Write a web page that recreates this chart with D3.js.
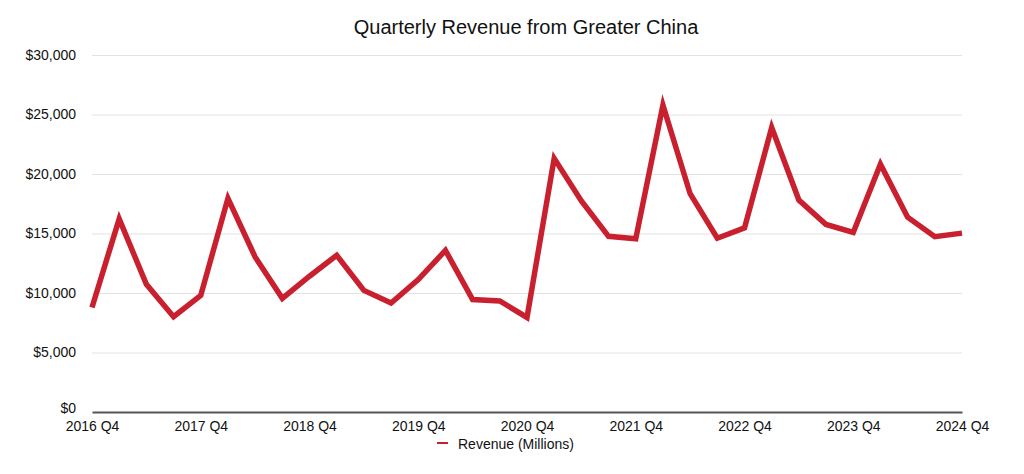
<!DOCTYPE html>
<html>
<head>
<meta charset="utf-8">
<script src="https://cdn.jsdelivr.net/npm/d3@7"></script>
<style>
  html, body { margin: 0; padding: 0; background: #fff; }
  svg { display: block; font-family: "Liberation Sans", Arial, Helvetica, sans-serif; }
</style>
</head>
<body>
<svg id="chart" width="1024" height="474"></svg>
<script>
const quarters = [
  "2016 Q4","2017 Q1","2017 Q2","2017 Q3","2017 Q4","2018 Q1","2018 Q2","2018 Q3",
  "2018 Q4","2019 Q1","2019 Q2","2019 Q3","2019 Q4","2020 Q1","2020 Q2","2020 Q3",
  "2020 Q4","2021 Q1","2021 Q2","2021 Q3","2021 Q4","2022 Q1","2022 Q2","2022 Q3",
  "2022 Q4","2023 Q1","2023 Q2","2023 Q3","2023 Q4","2024 Q1","2024 Q2","2024 Q3",
  "2024 Q4"
];
const revenue = [
  8785, 16233, 10726, 8004, 9801, 17956, 13024, 9551,
  11411, 13169, 10218, 9157, 11134, 13578, 9455, 9329,
  7946, 21313, 17728, 14762, 14563, 25783, 18343, 14604,
  15470, 23905, 17812, 15758, 15084, 20819, 16372, 14728,
  15033
];
const xTickLabels = ["2016 Q4","2017 Q4","2018 Q4","2019 Q4","2020 Q4","2021 Q4","2022 Q4","2023 Q4","2024 Q4"];
const yTicks = [0, 5000, 10000, 15000, 20000, 25000, 30000];
const title = "Quarterly Revenue from Greater China";
const seriesName = "Revenue (Millions)";

(function () {
const svg = d3.select("#chart");
const mLeft = 92, mRight = 962, mTop = 55, mBottom = 412;
const color = "#c9202f";

const x = d3.scalePoint().domain(quarters).range([mLeft, mRight]);
const y = d3.scaleLinear().domain([0, 30000]).range([mBottom, mTop]);

// title
svg.append("text")
  .attr("x", 526).attr("y", 34)
  .attr("text-anchor", "middle")
  .attr("font-size", 20)
  .attr("fill", "#111")
  .text(title);

// gridlines + y labels
const yAxis = d3.axisLeft(y).tickValues(yTicks).tickSize(-(mRight - mLeft)).tickPadding(16)
  .tickFormat(d => "$" + d3.format(",")(d));
const gy = svg.append("g").attr("transform", `translate(${mLeft},0)`).call(yAxis);
gy.select(".domain").remove();
gy.selectAll(".tick line").attr("stroke", "#e2e2e2").attr("stroke-width", 1);
gy.selectAll(".tick text").attr("font-size", 14).attr("fill", "#111")
  .attr("font-family", "'Liberation Sans', Arial, sans-serif");
gy.selectAll(".tick").filter(d => d === 0).select("line").remove();
gy.selectAll(".tick").filter(d => d === 0).select("text").attr("dy", "0.05em");

// x axis
const xAxis = d3.axisBottom(x).tickValues(xTickLabels).tickSize(0).tickPadding(9);
const gx = svg.append("g").attr("transform", `translate(0,${mBottom})`).call(xAxis);
gx.select(".domain").attr("stroke", "#555").attr("stroke-width", 2);
gx.selectAll(".tick text").attr("font-size", 14).attr("fill", "#111")
  .attr("font-family", "'Liberation Sans', Arial, sans-serif");

// line
const line = d3.line().x((d, i) => x(quarters[i])).y(d => y(d));
svg.append("path")
  .datum(revenue)
  .attr("d", line)
  .attr("fill", "none")
  .attr("stroke", color)
  .attr("stroke-width", 5.5)
  .attr("stroke-linejoin", "miter")
  .attr("stroke-miterlimit", 10);

// legend
const lg = svg.append("g");
lg.append("line").attr("x1", 437).attr("x2", 448).attr("y1", 443).attr("y2", 443)
  .attr("stroke", color).attr("stroke-width", 2);
lg.append("text").attr("x", 458).attr("y", 449).attr("font-size", 14).attr("fill", "#111")
  .text(seriesName);
})();
</script>
</body>
</html>
